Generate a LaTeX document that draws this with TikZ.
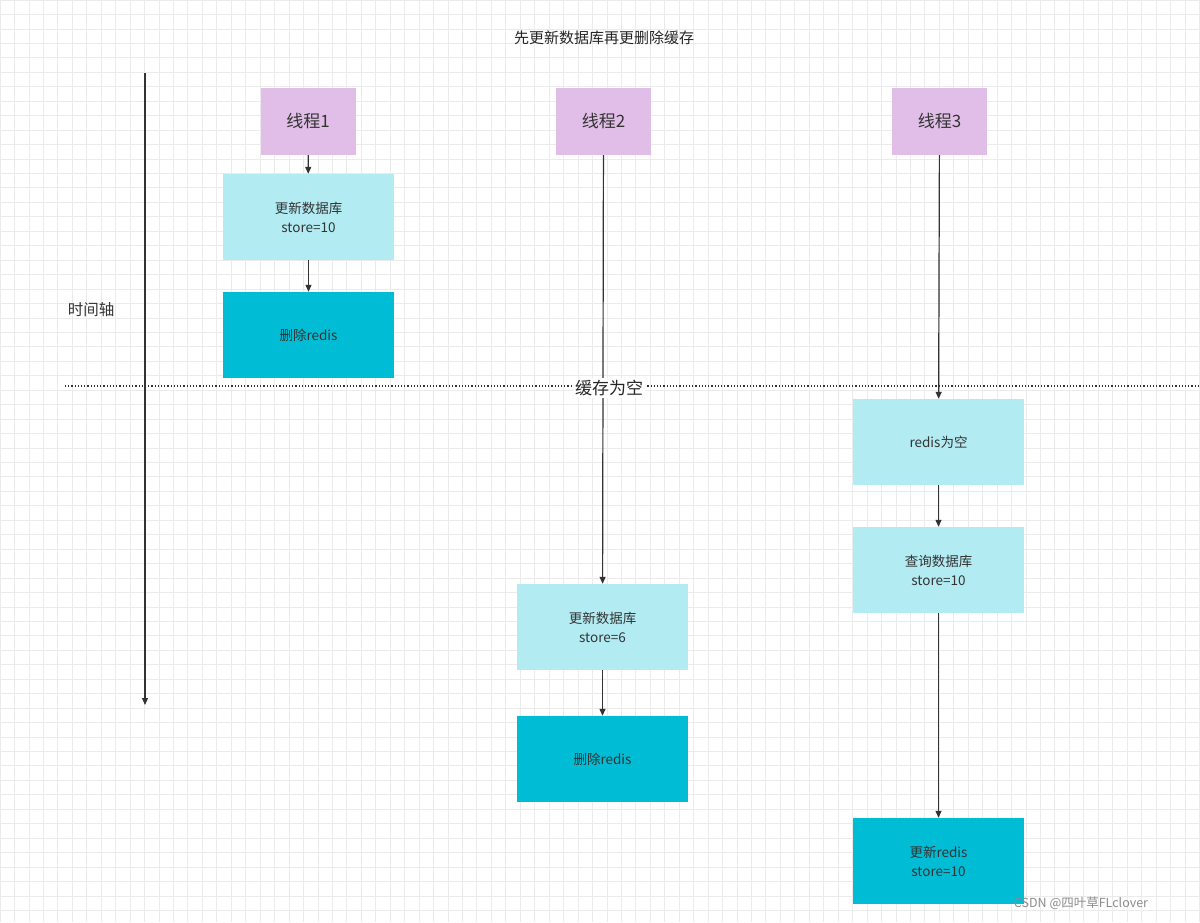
\documentclass[tikz,border=0pt]{standalone}
\usepackage{fontspec}
\setmainfont{Noto Sans CJK SC}
\usetikzlibrary{arrows.meta}
\definecolor{thr}{HTML}{E1BEE7}
\definecolor{lt}{HTML}{B2EBF2}
\definecolor{dk}{HTML}{00BCD4}
\definecolor{gridc}{HTML}{EBEBEB}
\tikzset{
  thread/.style={fill=thr,minimum width=95pt,minimum height=67pt,inner sep=0pt,font=\fontsize{17}{20}\selectfont,text=black!80},
  lbox/.style={fill=lt,minimum width=171pt,minimum height=86pt,inner sep=0pt,align=center,font=\fontsize{13.5}{19}\selectfont,text=black!80},
  dbox/.style={lbox,fill=dk},
  arr/.style={draw=black!80,line width=1.2pt,-{Triangle[length=7pt,width=6pt]}},
}
\begin{document}
\begin{tikzpicture}[x=1pt,y=-1pt]
\fill[white] (0,0) rectangle (1200,922);
\useasboundingbox (0,0) rectangle (1200,922);
\foreach \i in {0,...,83} {\draw[gridc,line width=0.8pt] (\i*14.45,0) -- (\i*14.45,922);}
\foreach \i in {0,...,64} {\draw[gridc,line width=0.8pt] (0,\i*14.45) -- (1200,\i*14.45);}
\node[font=\fontsize{15}{18}\selectfont,text=black!85] (title) at (604,38) {先更新数据库再更删除缓存};
\coordinate (ta) at (145,73); \coordinate (tb) at (145,705);
\draw[arr] (ta) -- (tb);
\node[font=\fontsize{15.5}{18}\selectfont,text=black!80] (axis) at (91,310) {时间轴};
\coordinate (da) at (65,386); \coordinate (db) at (1200,386);
\draw[black!80,line width=1.2pt,dotted] (da) -- (db);
% thread 1
\node[thread] (t1) at (308,121.5) {线程1};
\node[lbox] (a1) at (308.5,217) {更新数据库\\store=10};
\node[dbox] (a2) at (308.5,335) {删除redis};
\draw[arr] (t1) -- (a1);
\draw[arr] (a1) -- (a2);
% thread 2
\node[thread] (t2) at (603.5,121.5) {线程2};
\node[lbox] (b1) at (602.5,627) {更新数据库\\store=6};
\node[dbox] (b2) at (602.5,759) {删除redis};
\draw[arr] (t2) -- (b1);
\draw[arr] (b1) -- (b2);
% thread 3
\node[thread] (t3) at (939.5,121.5) {线程3};
\node[lbox] (c1) at (938.5,442) {redis为空};
\node[lbox] (c2) at (938.5,570) {查询数据库\\store=10};
\node[dbox] (c3) at (938.5,861) {更新redis\\store=10};
\draw[arr] (t3) -- (c1);
\draw[arr] (c1) -- (c2);
\draw[arr] (c2) -- (c3);
\node[fill=white,inner sep=2pt,font=\fontsize{17}{20}\selectfont,text=black!85] (empty) at (609,388) {缓存为空};
\node[font=\fontsize{12.5}{15}\selectfont,text=black!45] (wm) at (1081,903) {CSDN @四叶草FLclover};
\end{tikzpicture}
\end{document}
